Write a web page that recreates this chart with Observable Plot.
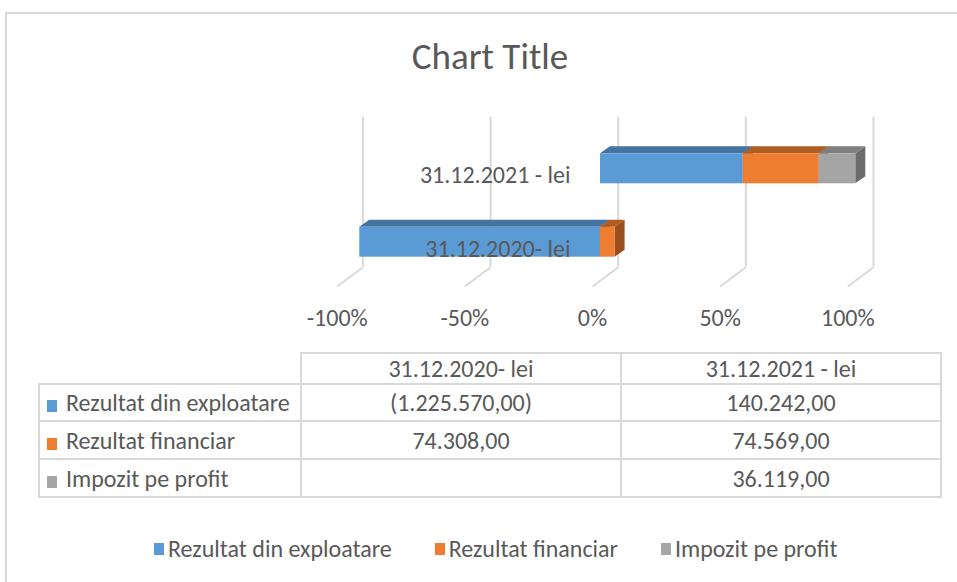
<!DOCTYPE html>
<html>
<head>
<meta charset="utf-8">
<script src="https://cdn.jsdelivr.net/npm/d3@7"></script>
<script src="https://cdn.jsdelivr.net/npm/@observablehq/plot@0.6"></script>
<style>
  html, body { margin: 0; padding: 0; background: #fff; }
  body { width: 957px; height: 582px; overflow: hidden; position: relative;
         font-family: Carlito, Lato, "Noto Sans", sans-serif; color: #595959; }
  #frame { position: absolute; left: 5px; top: 12px; width: 1000px; height: 700px;
           border-left: 2px solid #D9D9D9; border-top: 2px solid #D9D9D9; }
  #title { position: absolute; left: 0; width: 980px; top: 35px; text-align: center;
           font-size: 37px; line-height: 44px; }
  #plot { position: absolute; left: 0; top: 100px; }
  #tbl { position: absolute; left: 38px; top: 352px; border-collapse: collapse; font-size: 24px;
         table-layout: fixed; width: 902px; }
  #tbl td { border: 2px solid #D9D9D9; padding: 0; text-align: center; white-space: nowrap; overflow: hidden; }
  #tbl td.lab { text-align: left; padding-left: 7px; }
  #tbl td.blank { border-top: none; border-left: none; }
  .sw { display: inline-block; width: 10px; height: 12px; vertical-align: -1px; }
  #tbl .sw { margin-right: 9px; }
  #legend { position: absolute; left: 154px; top: 534px; font-size: 24px; display: flex; gap: 43px; white-space: nowrap; }
  #legend span.item { display: inline-flex; align-items: center; }
  #legend .sw { margin-right: 4px; }
</style>
</head>
<body>
<div id="frame"></div>
<div id="title"></div>
<div id="plot"></div>
<table id="tbl"></table>
<div id="legend"></div>
<script>
// ---- data ----
const categories = ["31.12.2020- lei", "31.12.2021 - lei"];
const seriesNames = ["Rezultat din exploatare", "Rezultat financiar", "Impozit pe profit"];
const rezultatExploatare = [-1225570.00, 140242.00];
const rezultatFinanciar = [74308.00, 74569.00];
const impozitProfit = [null, 36119.00];
const tickValues = [-1, -0.5, 0, 0.5, 1];
const tickLabels = ["-100%", "-50%", "0%", "50%", "100%"];
const titleText = "Chart Title";

// ---- styles ----
const frontColors = ["#5B9BD5", "#ED7D31", "#A5A5A5"];
const topColors = ["#44739F", "#B05D22", "#7F7F7F"];
const sideColors = ["#3B6690", "#9B4D1B", "#6B6B6B"];
const textColor = "#595959";
const gridColor = "#D9D9D9";
const fontFamily = "Carlito, Lato, 'Noto Sans', sans-serif";
const fontSize = 24;

// ---- geometry (pixels converted to data units) ----
const PX = 255.3;   // px per 100%
const PY = 73.4;    // px per category step
const half = 15 / PY;
const depthX = 10 / PX, depthY = 7 / PY;
const gridBackDx = 17.7 / PX;
const gridTop = 125 / PY, gridBackBottom = -25 / PY;
const floorDx = -8 / PX, floorY = -44.3 / PY;

// ---- 100% stacking (share of absolute total, positives right, negatives left) ----
const seriesValues = [rezultatExploatare, rezultatFinanciar, impozitProfit];
const segments = [];
categories.forEach((cat, i) => {
  const vals = seriesValues.map(s => s[i]);
  const total = d3.sum(vals, v => Math.abs(v ?? 0));
  let pos = 0, neg = 0;
  vals.forEach((v, k) => {
    if (v == null || v === 0) return;
    const share = v / total;
    let x1, x2;
    if (share >= 0) { x1 = pos; x2 = pos + share; pos = x2; }
    else { x2 = neg; x1 = neg + share; neg = x1; }
    segments.push({id: `${i}-${k}`, i, k, x1, x2});
  });
});
segments.sort((a, b) => a.i - b.i || a.x1 - b.x1);

const sidePts = segments.flatMap(s => [
  {id: s.id, x: s.x2, y1: s.i - half, y2: s.i + half, c: sideColors[s.k]},
  {id: s.id, x: s.x2 + depthX, y1: s.i - half + depthY, y2: s.i + half + depthY, c: sideColors[s.k]}
]);
const topPts = segments.flatMap(s => [
  {id: s.id, y: s.i + half, x1: s.x1, x2: s.x2, c: topColors[s.k]},
  {id: s.id, y: s.i + half + depthY, x1: s.x1 + depthX, x2: s.x2 + depthX, c: topColors[s.k]}
]);

const W = 957, H = 240;
const chart = Plot.plot({
  width: W, height: H,
  marginLeft: 600 - PX, marginRight: W - (600 + PX), marginTop: 0, marginBottom: 0,
  x: {domain: [-1, 1], axis: null},
  y: {domain: [-(H - 141.7) / PY, 141.7 / PY], axis: null},
  color: {type: "identity"},
  style: {background: "transparent", overflow: "visible", fontFamily, color: textColor},
  marks: [
    Plot.ruleX(tickValues, {x: d => d + gridBackDx, y1: () => gridBackBottom, y2: () => gridTop, stroke: gridColor, strokeWidth: 2}),
    Plot.link(tickValues, {x1: d => d + gridBackDx, y1: () => gridBackBottom, x2: d => d + floorDx, y2: () => floorY, stroke: gridColor, strokeWidth: 2}),
    Plot.areaY(sidePts, {x: "x", y1: "y1", y2: "y2", z: "id", fill: "c", curve: "linear"}),
    Plot.areaX(topPts, {y: "y", x1: "x1", x2: "x2", z: "id", fill: "c", curve: "linear"}),
    Plot.rect(segments, {x1: "x1", x2: "x2", y1: d => d.i - half, y2: d => d.i + half, fill: d => frontColors[d.k]}),
    Plot.text(categories, {x: () => 0, y: (d, i) => i, dx: -30, dy: 7, text: d => d, textAnchor: "end", fontSize, fill: textColor}),
    Plot.text(tickValues, {x: d => d + floorDx, y: () => floorY, dy: 32, text: (d, i) => tickLabels[i], fontSize, fill: textColor})
  ]
});
document.getElementById("plot").appendChild(chart);
document.getElementById("title").textContent = titleText;

// ---- data table ----
const fmt = v => {
  if (v == null) return "";
  const [int, dec] = Math.abs(v).toFixed(2).split(".");
  const t = int.replace(/\B(?=(\d{3})+(?!\d))/g, ".") + "," + dec;
  return v < 0 ? `(${t})` : t;
};
const tbl = document.getElementById("tbl");
const rowH = [29, 37, 38, 38];
let html = `<colgroup><col style="width:262px"><col style="width:320px"><col style="width:320px"></colgroup>`;
html += `<tr style="height:${rowH[0]}px"><td class="blank"></td>` +
  categories.map(c => `<td>${c}</td>`).join("") + `</tr>`;
seriesValues.forEach((vals, k) => {
  html += `<tr style="height:${rowH[k + 1]}px"><td class="lab"><span class="sw" style="background:${frontColors[k]}"></span>${seriesNames[k]}</td>` +
    vals.map(v => `<td>${fmt(v)}</td>`).join("") + `</tr>`;
});
tbl.innerHTML = html;

// ---- legend ----
document.getElementById("legend").innerHTML = seriesNames.map((n, k) =>
  `<span class="item"><span class="sw" style="background:${frontColors[k]}"></span>${n}</span>`).join("");
</script>
</body>
</html>
